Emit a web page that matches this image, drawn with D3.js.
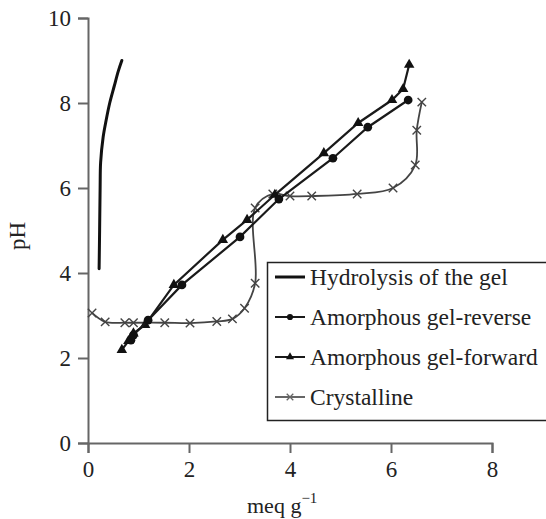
<!DOCTYPE html>
<html>
<head>
<meta charset="utf-8">
<script src="https://cdn.jsdelivr.net/npm/d3@7"></script>
<style>
  html, body { margin: 0; padding: 0; background: #fff; }
  svg { display: block; }
  text { font-family: "Liberation Serif", "DejaVu Serif", serif; fill: #222; }
</style>
</head>
<body>
<svg id="chart" width="546" height="519"></svg>
<script>
// Titration curves: pH against meq per gram
const xTicks = [0, 2, 4, 6, 8];
const yTicks = [0, 2, 4, 6, 8, 10];

const hydrolysisX = [0.22, 0.23, 0.24, 0.25, 0.30, 0.36, 0.43, 0.52, 0.60, 0.67];
const hydrolysisY = [4.10, 5.00, 6.00, 6.60, 7.20, 7.60, 8.00, 8.40, 8.75, 9.00];

const reverseX = [0.85, 0.90, 1.19, 1.86, 3.01, 3.78, 4.85, 5.54, 6.34];
const reverseY = [2.42, 2.54, 2.89, 3.72, 4.85, 5.74, 6.70, 7.43, 8.07];

const forwardX = [0.67, 0.80, 0.90, 1.13, 1.70, 2.67, 3.15, 3.70, 4.67, 5.35, 6.02, 6.24, 6.36];
const forwardY = [2.19, 2.40, 2.58, 2.78, 3.72, 4.78, 5.25, 5.84, 6.82, 7.53, 8.07, 8.33, 8.90];

const crystalX = [0.08, 0.34, 0.73, 0.90, 1.52, 2.02, 2.55, 2.86, 3.10, 3.31, 3.31, 3.66, 4.00, 4.43, 5.33, 6.04, 6.48, 6.51, 6.61];
const crystalY = [3.06, 2.85, 2.83, 2.83, 2.83, 2.82, 2.86, 2.92, 3.17, 3.76, 5.53, 5.86, 5.81, 5.81, 5.86, 6.00, 6.54, 7.36, 8.02];

const seriesNames = ["Hydrolysis of the gel", "Amorphous gel-reverse", "Amorphous gel-forward", "Crystalline"];

const svg = d3.select("#chart");
const x = d3.scaleLinear().domain([0, 8]).range([88, 492]);
const y = d3.scaleLinear().domain([0, 10]).range([443, 18]);

const axisColor = "#666";

// Axes
const gx = svg.append("g").attr("transform", `translate(0,${y(0)})`)
  .call(d3.axisBottom(x).tickValues(xTicks).tickSize(10).tickPadding(8).tickFormat(d3.format("d")));
const gy = svg.append("g").attr("transform", `translate(${x(0)},0)`)
  .call(d3.axisLeft(y).tickValues(yTicks).tickSize(10).tickPadding(7).tickFormat(d3.format("d")));
[gx, gy].forEach(g => {
  g.select(".domain").attr("stroke", axisColor).attr("stroke-width", 2);
  g.selectAll(".tick line").attr("stroke", axisColor).attr("stroke-width", 2);
  g.selectAll(".tick text").attr("fill", "#222").style("font-size", "23px")
    .style("font-family", "'Liberation Serif', serif");
});

// Axis titles
svg.append("text")
  .attr("transform", `translate(25,236) rotate(-90)`)
  .attr("text-anchor", "middle")
  .style("font-size", "23px")
  .text("pH");

const xt = svg.append("text")
  .attr("x", 247).attr("y", 513)
  .style("font-size", "22px");
xt.append("tspan").text("meq g");
xt.append("tspan").attr("dy", -10).style("font-size", "15px").text("\u22121");

// Marker generators
const triangle = d3.symbol().type(d3.symbolTriangle).size(48);
const circle = d3.symbol().type(d3.symbolCircle).size(60);
const cross = d3.symbol().type(d3.symbolX).size(48);

function zip(xs, ys) { return xs.map((v, i) => [v, ys[i]]); }

const lineLinear = d3.line().x(d => x(d[0])).y(d => y(d[1]));
const lineSmooth = d3.line().x(d => x(d[0])).y(d => y(d[1])).curve(d3.curveCatmullRom.alpha(0.5));

// Crystalline
const crystal = zip(crystalX, crystalY);
svg.append("path").attr("d", lineSmooth(crystal))
  .attr("fill", "none").attr("stroke", "#444").attr("stroke-width", 1.8);
svg.append("g").selectAll("path").data(crystal).join("path")
  .attr("transform", d => `translate(${x(d[0])},${y(d[1])})`)
  .attr("d", cross).attr("fill", "none").attr("stroke", "#444").attr("stroke-width", 1.4);

// Amorphous gel-forward
const forward = zip(forwardX, forwardY);
svg.append("path").attr("d", lineLinear(forward))
  .attr("fill", "none").attr("stroke", "#1a1a1a").attr("stroke-width", 2.2);
svg.append("g").selectAll("path").data(forward).join("path")
  .attr("transform", d => `translate(${x(d[0])},${y(d[1])})`)
  .attr("d", triangle).attr("fill", "#111");

// Amorphous gel-reverse
const reverse = zip(reverseX, reverseY);
svg.append("path").attr("d", lineLinear(reverse))
  .attr("fill", "none").attr("stroke", "#1a1a1a").attr("stroke-width", 2.2);
svg.append("g").selectAll("path").data(reverse).join("path")
  .attr("transform", d => `translate(${x(d[0])},${y(d[1])})`)
  .attr("d", circle).attr("fill", "#111");

// Hydrolysis of the gel
const hydro = zip(hydrolysisX, hydrolysisY);
svg.append("path").attr("d", lineSmooth(hydro))
  .attr("fill", "none").attr("stroke", "#111").attr("stroke-width", 3)
  .attr("stroke-linecap", "round");

// Legend
const legend = svg.append("g");
legend.append("rect")
  .attr("x", 267.5).attr("y", 262.5).attr("width", 300).attr("height", 158)
  .attr("fill", "#fff").attr("stroke", "#222").attr("stroke-width", 1.5);

const rowY = [277, 317, 357, 397];
const legendStroke = ["#111", "#1a1a1a", "#1a1a1a", "#666"];
seriesNames.forEach((name, i) => {
  const ly = rowY[i];
  legend.append("line")
    .attr("x1", 275).attr("x2", 305).attr("y1", ly).attr("y2", ly)
    .attr("stroke", legendStroke[i]).attr("stroke-width", i === 0 ? 3 : 2);
  if (i > 0) {
    const m = legend.append("path")
      .attr("transform", `translate(290,${ly})`)
      .attr("d", i === 1 ? d3.symbol().type(d3.symbolCircle).size(30)()
                : i === 2 ? d3.symbol().type(d3.symbolTriangle).size(28)()
                : d3.symbol().type(d3.symbolX).size(30)());
    if (i === 3) m.attr("fill", "none").attr("stroke", "#666").attr("stroke-width", 1.3);
    else m.attr("fill", "#111");
  }
  legend.append("text")
    .attr("x", 310).attr("y", ly).attr("dy", "0.35em")
    .style("font-size", "23.5px")
    .text(name);
});
</script>
</body>
</html>
